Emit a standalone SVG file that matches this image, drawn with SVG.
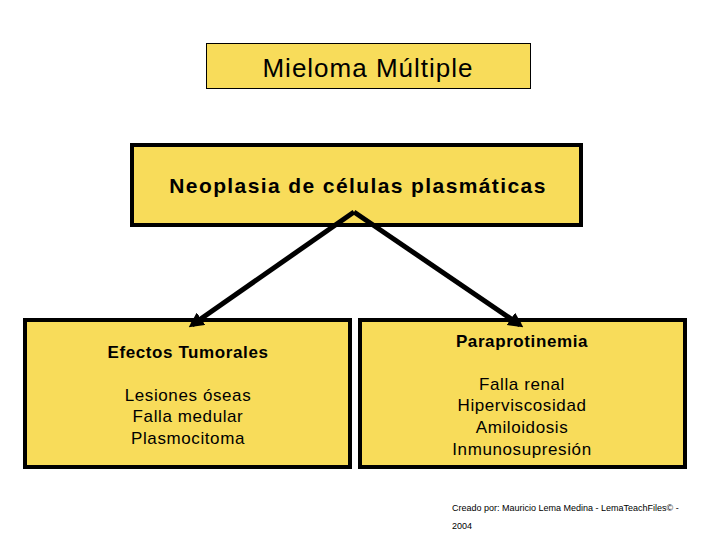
<svg xmlns="http://www.w3.org/2000/svg" width="720" height="540" viewBox="0 0 720 540">
<style>
.box{fill:#F8DC5A;stroke:#000}
.t{font-family:"Liberation Sans",Arial,sans-serif;fill:#000;text-anchor:middle}
.b{font-weight:bold}
.s{font-size:17px;letter-spacing:0.6px}
.c{stroke:#000;stroke-width:5;fill:none;marker-end:url(#ah)}
</style>
<defs>
<marker id="ah" markerWidth="3" markerHeight="3" refX="2.2" refY="1.5" orient="auto" markerUnits="strokeWidth">
<path d="M0,0 L3,1.5 L0,3 z" fill="#000"/>
</marker>
</defs>
<rect width="720" height="540" fill="#fff"/>
<g id="title">
<rect class="box" x="206.5" y="43.5" width="324" height="45" stroke-width="1"/>
<text class="t" x="368" y="77" font-size="26" letter-spacing="1">Mieloma Múltiple</text>
</g>
<g id="neoplasia">
<rect class="box" x="132" y="145" width="449" height="80" stroke-width="4"/>
<text class="t b" x="358" y="193" font-size="21" letter-spacing="1.4">Neoplasia de células plasmáticas</text>
</g>
<g id="efectos">
<rect class="box" x="25" y="320" width="325" height="147" stroke-width="4"/>
<text class="t b s" x="188" y="358">Efectos Tumorales</text>
<text class="t s" x="188" y="401">Lesiones óseas</text>
<text class="t s" x="188" y="422">Falla medular</text>
<text class="t s" x="188" y="444">Plasmocitoma</text>
</g>
<g id="paraprot">
<rect class="box" x="360" y="320" width="325" height="147" stroke-width="4"/>
<text class="t b s" x="522" y="347">Paraprotinemia</text>
<text class="t s" x="522" y="390">Falla renal</text>
<text class="t s" x="522" y="411">Hiperviscosidad</text>
<text class="t s" x="522" y="433">Amiloidosis</text>
<text class="t s" x="522" y="455">Inmunosupresión</text>
</g>
<g id="connectors">
<path class="c" d="M354,212 L192,325"/>
<path class="c" d="M354,212 L520,325"/>
</g>
<g id="footer">
<text font-family="Liberation Sans,Arial,sans-serif" font-size="9" x="452" y="511">Creado por: Mauricio Lema Medina - LemaTeachFiles© -</text>
<text font-family="Liberation Sans,Arial,sans-serif" font-size="9" x="452" y="529">2004</text>
</g>
</svg>
